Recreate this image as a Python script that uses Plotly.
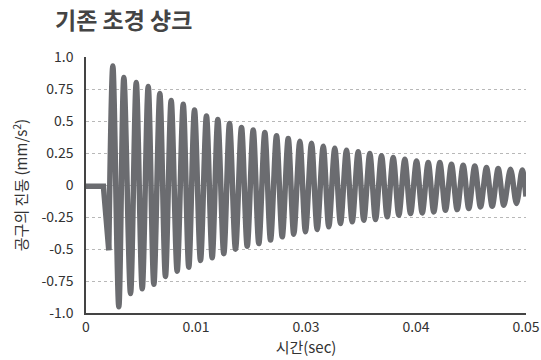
import plotly.graph_objects as go

# Vibration of the conventional carbide shank after impact
# Positive extremes (time in seconds, acceleration)
peak_t = [0.00305, 0.00430, 0.00571, 0.00707, 0.00839, 0.00968, 0.01105, 0.01233,
          0.01369, 0.01498, 0.01631, 0.01767, 0.01900, 0.02032, 0.02165, 0.02298,
          0.02430, 0.02563, 0.02696, 0.02827, 0.02960, 0.03093, 0.03225, 0.03358,
          0.03491, 0.03623, 0.03756, 0.03889, 0.04021, 0.04153, 0.04286, 0.04418,
          0.04551, 0.04684, 0.04824, 0.04957]
peak_v = [0.93, 0.84, 0.80, 0.77, 0.715, 0.66, 0.63, 0.585, 0.54, 0.512, 0.48, 0.45,
          0.43, 0.41, 0.385, 0.363, 0.342, 0.326, 0.303, 0.287, 0.272, 0.259, 0.246,
          0.228, 0.214, 0.201, 0.188, 0.176, 0.175, 0.162, 0.155, 0.149, 0.136,
          0.129, 0.123, 0.118]

# Negative extremes
trough_t = [0.00259, 0.00373, 0.00506, 0.00639, 0.00771, 0.00903, 0.01036, 0.01168,
            0.01301, 0.01434, 0.01566, 0.01699, 0.01832, 0.01964, 0.02097, 0.02230,
            0.02361, 0.02494, 0.02627, 0.02759, 0.02892, 0.03025, 0.03157, 0.03290,
            0.03423, 0.03555, 0.03688, 0.03821, 0.03952, 0.04085, 0.04218, 0.04350,
            0.04483, 0.04616, 0.04748, 0.04892]
trough_v = [-0.51, -0.952, -0.848, -0.811, -0.776, -0.714, -0.673, -0.642, -0.589,
            -0.568, -0.537, -0.501, -0.478, -0.457, -0.430, -0.405, -0.384, -0.366,
            -0.348, -0.327, -0.301, -0.288, -0.275, -0.270, -0.249, -0.236, -0.223,
            -0.218, -0.210, -0.197, -0.192, -0.184, -0.171, -0.166, -0.158, -0.145]

# Resting signal before the hit and the last sample
rest_t = [0.0, 0.00198]
rest_v = [-0.01, -0.01]
end_t = [0.0500]
end_v = [-0.09]

x_tick_vals = [0.0, 0.0125, 0.025, 0.0375, 0.05]
x_tick_text = ["0", "0.01", "0.03", "0.04", "0.05"]
y_tick_vals = [-1.0, -0.75, -0.5, -0.25, 0.0, 0.25, 0.5, 0.75, 1.0]
y_tick_text = ["-1.0", "-0.75", "-0.5", "-0.25", "0", "0.25", "0.5", "0.75", "1.0"]

# oscillation samples in time order
osc = sorted(zip(peak_t + trough_t + end_t, peak_v + trough_v + end_v))
osc_t = [s[0] for s in osc]
osc_v = [s[1] for s in osc]

FONT = "Noto Sans CJK KR"
LINE = "#6b6c70"

fig = go.Figure()
# flat rest segment, straight into the first swing
fig.add_trace(go.Scatter(
    x=rest_t + osc_t[:1], y=rest_v + osc_v[:1], mode="lines",
    line=dict(color=LINE, width=5.5), hoverinfo="skip", showlegend=False,
))
fig.add_trace(go.Scatter(
    x=osc_t, y=osc_v, mode="lines",
    line=dict(color=LINE, width=5.5, shape="spline", smoothing=0.9),
    hoverinfo="skip", showlegend=False,
))

fig.update_layout(
    width=541, height=360,
    margin=dict(l=86, r=15, t=57, b=47),
    paper_bgcolor="white", plot_bgcolor="white",
    font=dict(family=FONT, color="#333333", size=14),
    title=dict(text="<b>기존 초경 샹크</b>", x=55 / 541, xanchor="left",
               xref="container", y=1 - 21 / 360, yref="container",
               yanchor="middle", font=dict(size=23, color="#444444", family=FONT)),
    xaxis=dict(
        range=[0, 0.05], tickmode="array", tickvals=x_tick_vals, ticktext=x_tick_text,
        showgrid=False, zeroline=False, showline=True, linecolor="#444444", linewidth=2,
        ticks="", tickfont=dict(size=14, color="#333333"), automargin=False,
        title=dict(text="시간(sec)", font=dict(size=15, color="#333333"), standoff=8),
    ),
    yaxis=dict(
        range=[-1.0, 1.0], tickmode="array", tickvals=y_tick_vals, ticktext=y_tick_text,
        showgrid=True, gridcolor="#b8b8b8", gridwidth=1.2, griddash="dot",
        zeroline=False, showline=True, linecolor="#444444", linewidth=1.5,
        ticks="", ticklabelstandoff=8, tickfont=dict(size=14, color="#333333"),
        automargin=False,
        title=dict(text="공구의 진동 (mm/s<sup>2</sup>)",
                   font=dict(size=15, color="#333333"), standoff=10),
    ),
)

fig.write_html("out.html")
